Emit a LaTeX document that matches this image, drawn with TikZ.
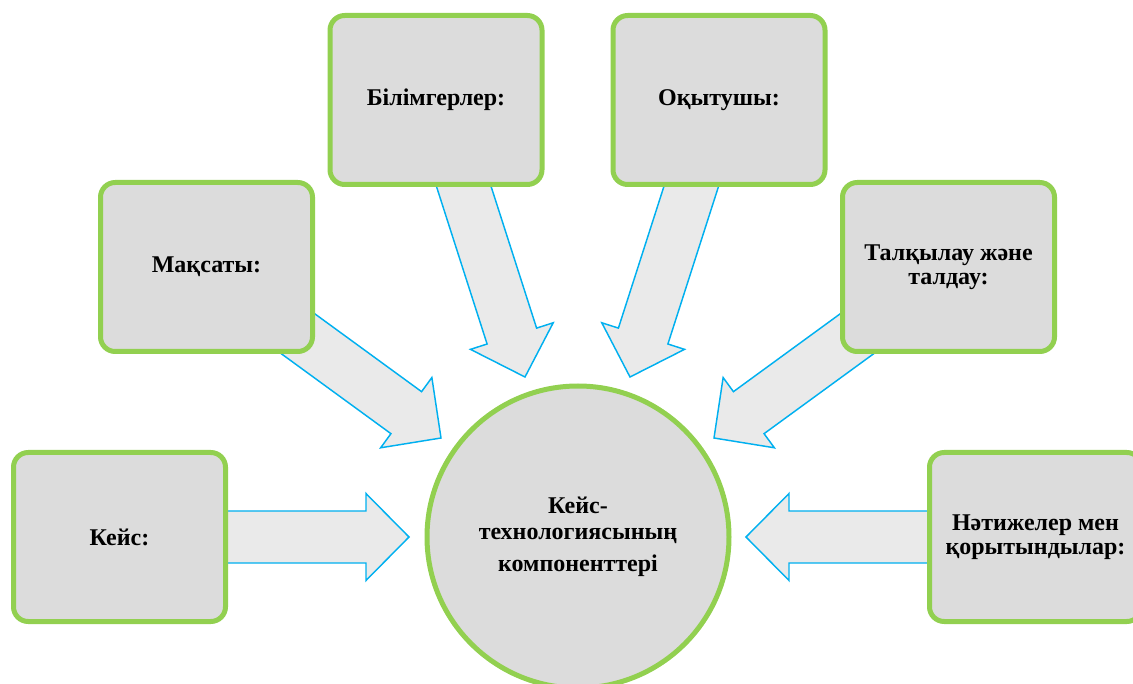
\documentclass[tikz,border=0pt]{standalone}
\usepackage{fontspec}
\setmainfont{Liberation Serif}
\usetikzlibrary{calc,backgrounds}
\definecolor{boxgreen}{HTML}{92D050}
\definecolor{boxgray}{HTML}{DCDCDC}
\definecolor{arrfill}{HTML}{EAEAEA}
\definecolor{arrline}{HTML}{00B0F0}
\tikzset{
  compbox/.style={draw=boxgreen, fill=boxgray, line width=3.75pt, rounded corners=11pt,
    minimum width=159pt, minimum height=126.75pt, inner sep=0pt, align=center,
    font=\fontsize{18}{17.75}\selectfont\bfseries},
  hub/.style={circle, draw=boxgreen, fill=boxgray, line width=3.75pt, minimum size=226.5pt,
    inner sep=0pt, align=center, font=\fontsize{18}{19}\selectfont\bfseries},
  blockarrow/.style={draw=arrline, fill=arrfill, line width=1.1pt, line join=miter},
}
\newcommand\blockarr[2]{%
  \coordinate (#2h) at ($(#2)!32.25pt!(#1)$);
  \draw[blockarrow] ($(#1)!19.5pt!90:(#2)$) -- ($(#2h)!19.5pt!90:(#2)$)
    -- ($(#2h)!32.6pt!90:(#2)$) -- (#2) -- ($(#2h)!32.6pt!-90:(#2)$)
    -- ($(#2h)!19.5pt!-90:(#2)$) -- ($(#1)!19.5pt!-90:(#2)$) -- cycle;
}
\begin{document}
\begin{tikzpicture}[x=0.75pt, y=-0.75pt]
\useasboundingbox (0,0) rectangle (1133,684);
\clip (0,0) rectangle (1133,684);
\node[compbox] (kase) at (119.5,537) {Кейс:};
\node[compbox] (maks) at (206.5,267) {Мақсаты:};
\node[compbox] (bilim) at (436,100) {Білімгерлер:};
\node[compbox] (okyt) at (719,100) {Оқытушы:};
\node[compbox] (talk) at (948.5,267) {Талқылау және\\талдау:};
\node[compbox] (natij) at (1035.5,537) {Нәтижелер мен\\қорытындылар:};
\node[hub] (hub) at (578,537) {Кейс-\\технологиясының\\[5.25pt]компоненттері};
\coordinate (tK) at (409,537);
\coordinate (tN) at (746,537);
\coordinate (tM) at (441,438);
\coordinate (tT) at (714,438);
\coordinate (tB) at (525,377);
\coordinate (tO) at (630,377);
\begin{scope}[on background layer]
\blockarr{kase.center}{tK}
\blockarr{natij.center}{tN}
\blockarr{maks.center}{tM}
\blockarr{talk.center}{tT}
\blockarr{bilim.center}{tB}
\blockarr{okyt.center}{tO}
\end{scope}
\end{tikzpicture}
\end{document}
